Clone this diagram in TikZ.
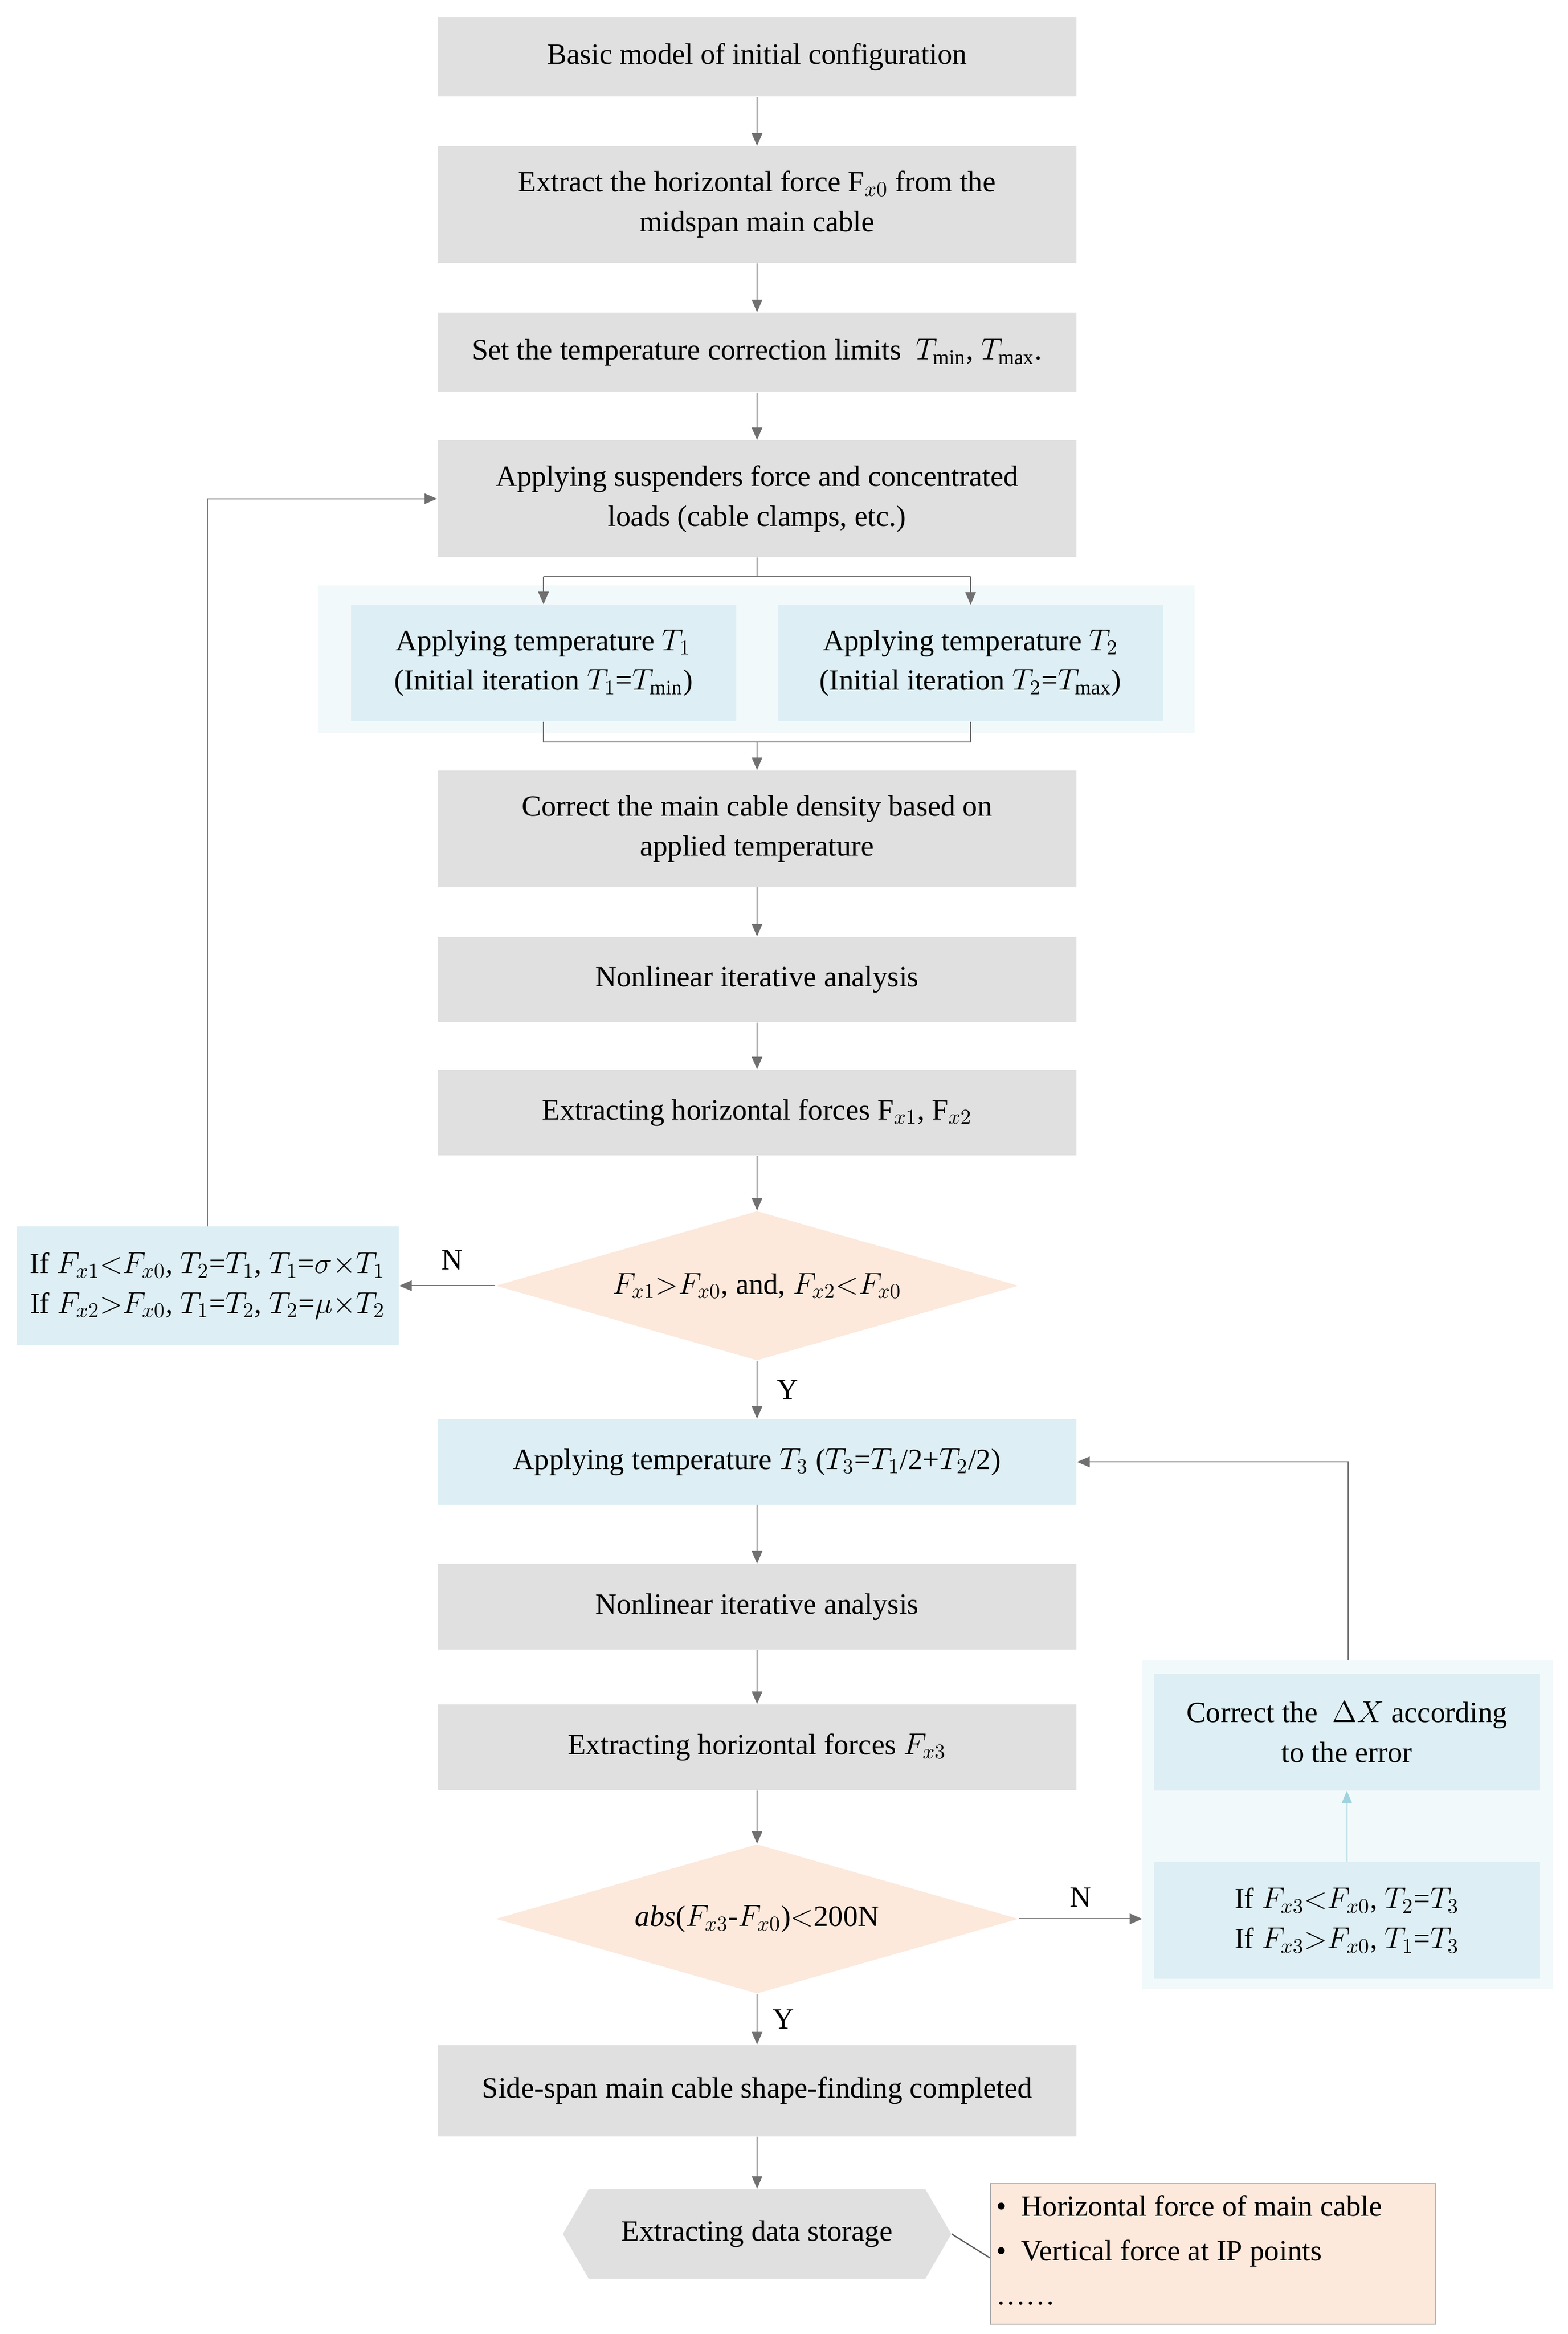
\documentclass[tikz,border=0pt]{standalone}
\usepackage{fontspec}
\setmainfont{Liberation Serif}
\usetikzlibrary{shapes.geometric,shapes.symbols,arrows.meta}
\definecolor{gbox}{HTML}{E0E0E0}
\definecolor{bbox}{HTML}{DDEFF4}
\definecolor{pbox}{HTML}{FCE9DC}
\definecolor{panel}{HTML}{F2F9FA}
\definecolor{ln}{HTML}{707070}
\definecolor{lb}{HTML}{9FD3DF}
\begin{document}
\begin{tikzpicture}[x=0.025cm,y=-0.025cm,
  every node/.style={font=\fontsize{14}{19}\selectfont},
  box/.style={fill=gbox,minimum width=10.7cm,align=center,inner sep=0pt},
  bl/.style={fill=bbox,align=center,inner sep=0pt},
  dia/.style={diamond,fill=pbox,aspect=3.5,minimum width=8.75cm,minimum height=2.5cm,inner sep=0pt},
  arr/.style={draw=ln,-{Triangle[length=6pt,width=5pt]},line width=0.5pt},
  lin/.style={draw=ln,line width=0.5pt}]
\useasboundingbox (0,0) rectangle (1050,1563);
\fill[white] (0,0) rectangle (1050,1563);
% panels
\fill[panel] (213,392) rectangle (800,491);
\fill[panel] (765,1112) rectangle (1040,1332);
\node[box,minimum height=1.33cm] (b1) at (507,38) {Basic model of initial configuration};
\node[box,minimum height=1.95cm] (b2) at (507,137) {Extract the horizontal force F$_{x0}$ from the\\midspan main cable};
\node[box,minimum height=1.33cm] (b3) at (507,236) {Set the temperature correction limits\ \ $T_{\min}$, $T_{\max}$.};
\node[box,minimum height=1.95cm] (b4) at (507,334) {Applying suspenders force and concentrated\\loads (cable clamps, etc.)};
\node[bl,minimum width=6.45cm,minimum height=1.95cm] (t1) at (364,444) {Applying temperature $T_1$\\(Initial iteration $T_1$=$T_{\min}$)};
\node[bl,minimum width=6.45cm,minimum height=1.95cm] (t2) at (650,444) {Applying temperature $T_2$\\(Initial iteration $T_2$=$T_{\max}$)};
\node[box,minimum height=1.95cm] (b5) at (507,555) {Correct the main cable density based on\\applied temperature};
\node[box,minimum height=1.43cm] (b6) at (507,656) {Nonlinear iterative analysis};
\node[box,minimum height=1.43cm] (b7) at (507,745) {Extracting horizontal forces F$_{x1}$, F$_{x2}$};
\node[dia] (d1) at (507,861) {$F_{x1}$$>$$F_{x0}$, and, $F_{x2}$$<$$F_{x0}$};
\node[bl,minimum width=6.4cm,minimum height=1.98cm] (l1) at (139,861) {If $F_{x1}$$<$$F_{x0}$, $T_2$=$T_1$, $T_1$=$\sigma$$\times$$T_1$\\If $F_{x2}$$>$$F_{x0}$, $T_1$=$T_2$, $T_2$=$\mu$$\times$$T_2$};
\node[bl,minimum width=10.7cm,minimum height=1.43cm] (b8) at (507,979) {Applying temperature $T_3$ ($T_3$=$T_1$/2+$T_2$/2)};
\node[box,minimum height=1.43cm] (b9) at (507,1076) {Nonlinear iterative analysis};
\node[box,minimum height=1.43cm] (b10) at (507,1170) {Extracting horizontal forces $F_{x3}$};
\node[dia] (d2) at (507,1285) {\textit{abs}($F_{x3}$-$F_{x0}$)$<$200N};
\node[bl,minimum width=6.45cm,minimum height=1.95cm] (c1) at (902,1160) {Correct the\ \ $\Delta X$ according\\to the error};
\node[bl,minimum width=6.45cm,minimum height=1.95cm] (c2) at (902,1286) {If $F_{x3}$$<$$F_{x0}$, $T_2$=$T_3$\\If $F_{x3}$$>$$F_{x0}$, $T_1$=$T_3$};
\node[box,minimum height=1.53cm] (b11) at (507,1400) {Side-span main cable shape-finding completed};
\node[signal,signal to=east and west,signal pointer angle=120,fill=gbox,minimum width=6.5cm,minimum height=1.5cm,inner sep=0pt] (hx) at (507,1496) {Extracting data storage};
\node[fill=pbox,draw=ln!60,line width=0.4pt,minimum width=7.45cm,minimum height=2.35cm,align=left,anchor=north west,inner sep=0pt] (nt) at (663,1462) {};
\node[anchor=north west,align=left,inner sep=0pt] at (667,1470) {\textbullet\ \ Horizontal force of main cable\\[2pt]\textbullet\ \ Vertical force at IP points\\[2pt]\textellipsis\textellipsis};
\coordinate (pr) at (903,1112);
% connectors
\draw[arr] (b1) -- (b2);
\draw[arr] (b2) -- (b3);
\draw[arr] (b3) -- (b4);
\draw[lin] (b4.south) -- (507,386);
\draw[arr] (364,386) -- (t1.north);
\draw[arr] (650,386) -- (650,405);
\draw[lin] (364,386) -- (650,386);
\draw[lin] (t1.south) -- (364,497) -- (650,497) -- (t2.south);
\draw[arr] (507,497) -- (b5.north);
\draw[arr] (b5) -- (b6);
\draw[arr] (b6) -- (b7);
\draw[arr] (b7) -- (d1);
\draw[arr] (d1) -- node[above,pos=0.45,yshift=4pt]{N} (l1);
\draw[arr] (l1.north) -- (139,334) -- (b4.west);
\draw[arr] (d1) -- node[right,xshift=6pt]{Y} (b8);
\draw[arr] (b8) -- (b9);
\draw[arr] (b9) -- (b10);
\draw[arr] (b10) -- (d2);
\draw[arr] (d2.east) -- node[above,yshift=2pt]{N} (765,1285);
\draw[draw=lb,line width=0.5pt,-{Triangle[length=6pt,width=5pt]}] (c2) -- (c1);
\draw[arr] (pr) -- (903,979) -- (b8.east);
\draw[arr] (d2) -- node[right,xshift=4pt]{Y} (b11);
\draw[arr] (b11) -- (hx);
\draw[draw=ln!80!black,line width=0.6pt] (hx.east) -- (663,1512);
\end{tikzpicture}
\end{document}
